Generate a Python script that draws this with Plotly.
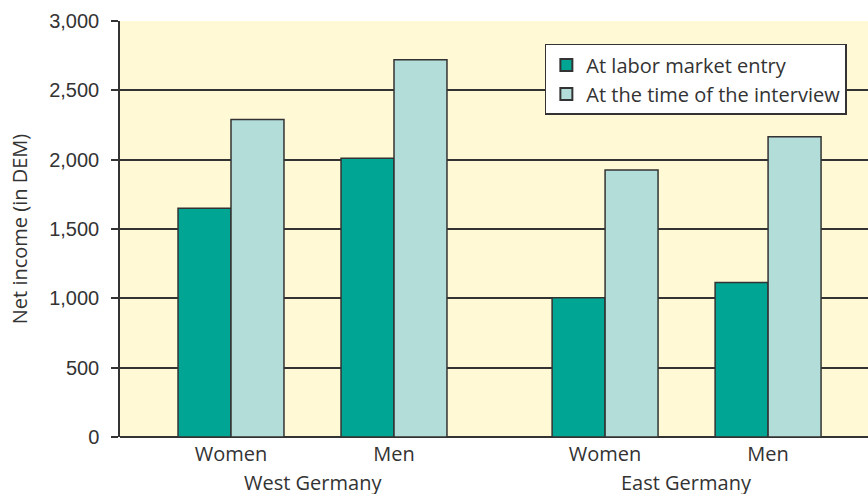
import plotly.graph_objects as go

# Data
groups = ["West Germany", "East Germany"]
categories = ["Women", "Men", "Women", "Men"]
x_pos = [0, 1, 2.295, 3.295]
entry = [1650, 2010, 1005, 1115]
interview = [2290, 2720, 1925, 2165]
series_names = ["At labor market entry", "At the time of the interview"]
y_ticks = [0, 500, 1000, 1500, 2000, 2500, 3000]

DARK = "#00a693"
LIGHT = "#b2ddd8"
BG = "#fff9d6"
LINE = "#333333"
LABEL_FONT = "Open Sans"

fig = go.Figure()
fig.add_trace(go.Bar(x=x_pos, y=entry, name=series_names[0],
                     marker=dict(color=DARK, line=dict(color=LINE, width=1.5))))
fig.add_trace(go.Bar(x=x_pos, y=interview, name=series_names[1],
                     marker=dict(color=LIGHT, line=dict(color=LINE, width=1.5))))

group_centers = [(x_pos[0] + x_pos[1]) / 2, (x_pos[2] + x_pos[3]) / 2]
for g, c in zip(groups, group_centers):
    fig.add_annotation(x=c, y=0, xref="x", yref="paper", text=g, showarrow=False,
                       yanchor="top", yshift=-31, height=24,
                       font=dict(family=LABEL_FONT, size=20, color="#333"))

fig.update_layout(
    width=868, height=497,
    margin=dict(l=120, r=0, t=21, b=60),
    paper_bgcolor="white", plot_bgcolor=BG,
    barmode="group", bargap=0.35, bargroupgap=0,
    showlegend=True,
    legend=dict(x=0.568, y=0.945, xanchor="left", yanchor="top",
                bgcolor="white", bordercolor=LINE, borderwidth=1.5,
                font=dict(family=LABEL_FONT, size=20, color="#333"),
                tracegroupgap=0, itemsizing="constant"),
    xaxis=dict(range=[-0.681, 3.908], tickvals=x_pos, ticktext=categories,
               showgrid=False, zeroline=False, showline=False, ticks="",
               ticklabelstandoff=3,
               tickfont=dict(family=LABEL_FONT, size=20, color="#333")),
    yaxis=dict(range=[0, 3000], tickvals=y_ticks, tickformat=",",
               showgrid=True, gridcolor=LINE, gridwidth=1.5,
               zeroline=True, zerolinecolor=LINE, zerolinewidth=1.5,
               showline=True, linecolor=LINE, linewidth=1.5,
               ticks="outside", ticklen=7, tickcolor=LINE, tickwidth=1.5,
               ticklabelstandoff=8,
               tickfont=dict(family="Liberation Sans", size=20, color="#333"),
               title=dict(text="Net income (in DEM)", standoff=16,
                          font=dict(family=LABEL_FONT, size=20, color="#333"))),
)

fig.write_html("out.html", config={"displayModeBar": False},
               post_script="document.body.style.margin='0';")
